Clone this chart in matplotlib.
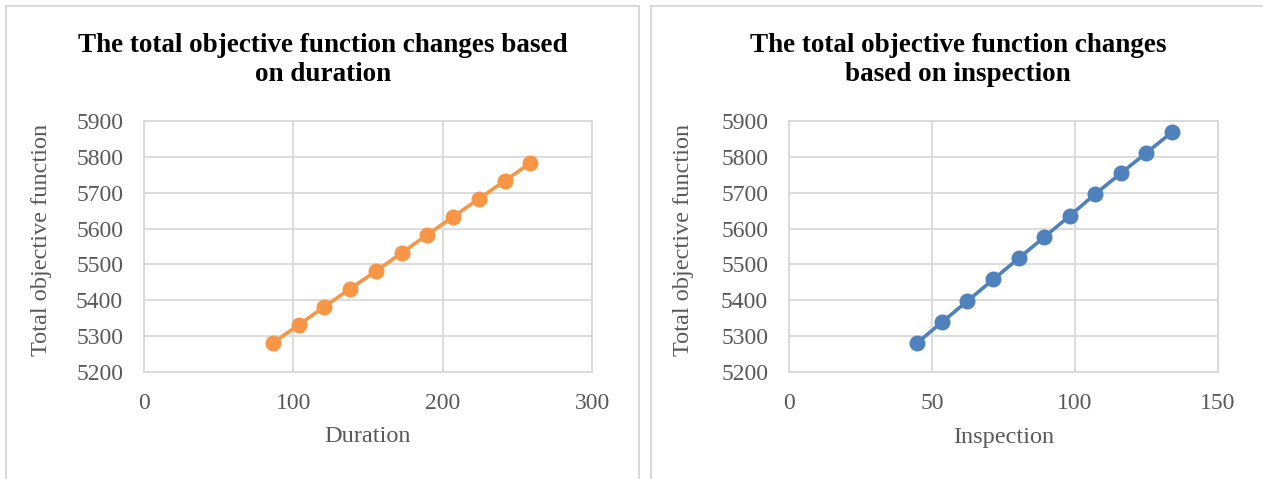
import matplotlib
matplotlib.use("Agg")
import matplotlib.pyplot as plt
from matplotlib.patches import Rectangle

# Data
duration = [86.25, 103.5, 120.75, 138, 155.25, 172.5, 189.75, 207, 224.25, 241.5, 258.75]
duration_obj = [5281, 5331, 5382, 5432, 5481, 5532, 5583, 5633, 5683, 5733, 5783]
inspection = [44.6, 53.5, 62.4, 71.4, 80.3, 89.2, 98.1, 107.0, 116.0, 124.9, 133.8]
inspection_obj = [5280, 5339, 5398, 5458, 5517, 5576, 5635, 5696, 5754, 5811, 5868]

titles = ["The total objective function changes based\non duration",
          "The total objective function changes\nbased on inspection"]
xlabels = ["Duration", "Inspection"]
ylabel = "Total objective function"
xticks_list = [[0, 100, 200, 300], [0, 50, 100, 150]]
yticks = [5200, 5300, 5400, 5500, 5600, 5700, 5800, 5900]

W, H = 1263, 479
fig = plt.figure(figsize=(W / 100, H / 100), dpi=100)
plt.rcParams['font.family'] = ['Liberation Serif', 'DejaVu Serif']

# panel borders
for (x0, x1) in [(6, 639), (651, 1270)]:
    fig.patches.append(Rectangle((x0 / W, -0.05), (x1 - x0) / W, 1.05 - 6 / H,
                                 transform=fig.transFigure, fill=False,
                                 edgecolor='#d9d9d9', linewidth=1.5))

grey = '#595959'
grid = '#d9d9d9'
axes_px = [(144, 592), (789, 1218)]
ylabel_x_px = [42, 683]
top_px, bot_px = 121, 372
datasets = [(duration, duration_obj, '#F79646'), (inspection, inspection_obj, '#4F81BD')]
title_x = [323 / W, 958 / W]

for i, ((x0, x1), (xs, ys, col)) in enumerate(zip(axes_px, datasets)):
    ax = fig.add_axes([x0 / W, 1 - bot_px / H, (x1 - x0) / W, (bot_px - top_px) / H])
    ax.plot(xs, ys, color=col, linewidth=2.6, marker='o', markersize=10.5,
            zorder=3, clip_on=False)
    xt = xticks_list[i]
    ax.set_xlim(xt[0], xt[-1])
    ax.set_ylim(5200, 5900)
    ax.set_xticks(xt)
    ax.set_yticks(yticks)
    ax.grid(True, color=grid, linewidth=1.3)
    for s in ax.spines.values():
        s.set_color(grid)
        s.set_linewidth(1.3)
    ax.tick_params(axis='both', length=0, labelsize=17, labelcolor=grey)
    ax.tick_params(axis='y', pad=15)
    ax.tick_params(axis='x', pad=15)
    ax.set_xlabel(xlabels[i], fontsize=17.5, color=grey, va='center')
    ax.xaxis.set_label_coords(0.5, (bot_px - 437) / (bot_px - top_px))
    ax.set_ylabel(ylabel, fontsize=17.5, color=grey, va='center')
    ax.yaxis.set_label_coords((ylabel_x_px[i] - x0) / (x1 - x0),
                              (bot_px - 240) / (bot_px - top_px))
    fig.text(title_x[i], 1 - 60 / H, titles[i], ha='center', va='center',
             fontsize=19.5, fontweight='bold', color='black', linespacing=1.22)

fig.savefig("out.png", dpi=100, facecolor='white')
